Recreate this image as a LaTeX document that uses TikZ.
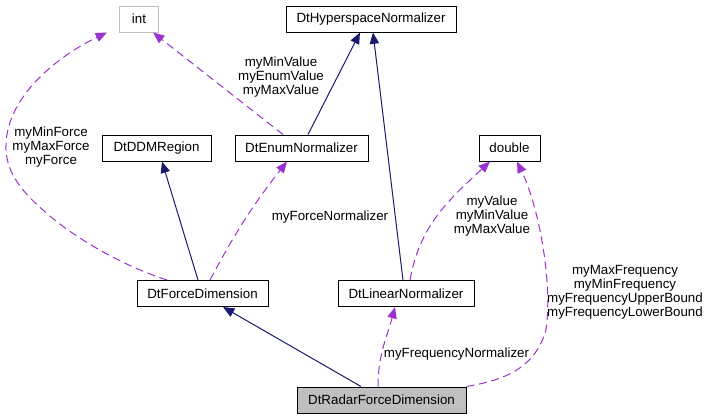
\documentclass[tikz,border=0pt]{standalone}
\usepackage{fontspec}
\setmainfont{Liberation Sans}
\usetikzlibrary{arrows.meta,calc}

\definecolor{inhblue}{RGB}{25,25,112}
\definecolor{usepurple}{RGB}{154,50,205}
\definecolor{boxgrey}{RGB}{191,191,191}

\tikzset{
  cls/.style={draw=black, fill=white, line width=0.75pt, minimum height=19.5pt,
    inner sep=0pt, font=\fontsize{10}{12}\selectfont},
  inh/.style={inhblue, line width=0.75pt, -{Triangle[length=8.5pt,width=7pt]}},
  usage/.style={usepurple, line width=0.75pt, dash pattern=on 6pt off 3.5pt,
    -{Triangle[length=8.5pt,width=7pt]}},
  lbl/.style={align=center, inner sep=0pt, font=\fontsize{10}{10.5}\selectfont}
}

\begin{document}
\begin{tikzpicture}[x=0.75pt,y=-0.75pt]
\useasboundingbox (0,0) rectangle (707,419);
% classes
\node[cls, draw=boxgrey, minimum width=29.25pt] (int) at (139,19) {int};
\node[cls, minimum width=127.5pt] (hyper) at (371,19) {DtHyperspaceNormalizer};
\node[cls, minimum width=81.75pt] (ddm) at (156.5,148) {DtDDMRegion};
\node[cls, minimum width=99.75pt] (enum) at (301.5,148) {DtEnumNormalizer};
\node[cls, minimum width=45.75pt] (dbl) at (509.5,148) {double};
\node[cls, minimum width=98.25pt] (force) at (202.5,293.5) {DtForceDimension};
\node[cls, minimum width=102pt] (linear) at (406,293.5) {DtLinearNormalizer};
\node[cls, fill=boxgrey, minimum width=126.75pt] (radar) at (381.5,400) {DtRadarForceDimension};
% inheritance
\draw[inh] ($(enum.north)+(6.5,0)$) -- ($(hyper.south)+(-11,0)$);
\draw[inh] ($(linear.north)+(-3,0)$) -- ($(hyper.south)+(2,0)$);
\draw[inh] ($(force.north)+(-4.5,0)$) -- ($(ddm.south)+(5.5,0)$);
\draw[inh] ($(radar.north)+(-20.5,0)$) -- ($(force.south)+(20.5,0)$);
% members
\draw[usage] ($(radar.north)+(-3.5,0)$) to[out=90,in=-105] ($(linear.south)+(-11,0)$);
\node[lbl] (freqnorm) at (456.5,354) {myFrequencyNormalizer};
\draw[usage] (radar.north east) .. controls (505,380) and (535,368) .. (546,330)
  .. controls (553,280) and (538,205) .. ($(dbl.south)+(7.5,0)$);
\node[lbl] (freqlbl) at (625,292) {myMaxFrequency\\myMinFrequency\\myFrequencyUpperBound\\myFrequencyLowerBound};
\draw[usage] ($(linear.north)+(4,0)$) to[out=80,in=-137] ($(dbl.south)+(-19.5,0)$);
\node[lbl] (vallbl) at (492,216) {myValue\\myMinValue\\myMaxValue};
\draw[usage] ($(enum.north)+(-18.5,0)$) -- ($(int.south)+(14,0)$);
\node[lbl] (enumlbl) at (281,77) {myMinValue\\myEnumValue\\myMaxValue};
\draw[usage] ($(force.north)+(7.5,0)$) to[bend left=5] ($(enum.south)+(-14.5,0)$);
\node[lbl] (forcenorm) at (330,217) {myForceNormalizer};
\draw[usage] ($(force.north)+(-35.5,0)$) .. controls (120,265) and (70,235) .. (43,210)
  .. controls (20,190) and (5,170) .. (6,145)
  .. controls (7,95) and (60,55) .. ($(int.south)+(-32,0)$);
\node[lbl] (forcelbl) at (51,147) {myMinForce\\myMaxForce\\myForce};
\end{tikzpicture}
\end{document}
